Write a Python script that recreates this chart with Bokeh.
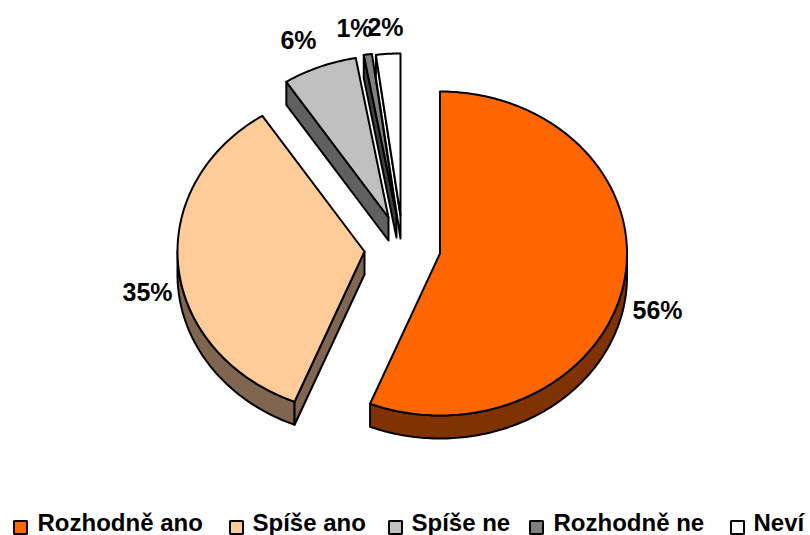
import numpy as np
from bokeh.plotting import figure
from bokeh.embed import file_html
from bokeh.resources import INLINE
from bokeh.core.properties import value

categories = ["Rozhodně ano", "Spíše ano", "Spíše ne", "Rozhodně ne", "Neví"]
shares = [56.1, 34.7, 6.4, 0.7, 2.1]
labels = ["56%", "35%", "6%", "1%", "2%"]
top_colors = ["#FF6600", "#FFCC99", "#C0C0C0", "#808080", "#FFFFFF"]
side_colors = ["#803300", "#806650", "#606060", "#404040", "#FFFFFF"]

# layout in page pixels
W, H = 810, 535
apex_x = [439.5, 364, 388, 396, 400]
apex_y = [253, 251, 217, 214, 215]
RX, RY, DEPTH = 187, 162, 23
label_x = [657, 147, 298, 354, 385]
label_y = [309, 291, 39, 27, 26]
swatch_x = [20, 236, 395, 536, 737]
legend_x = [37, 252, 411, 553, 753]

FONT = value("Liberation Sans")

p = figure(width=W, height=H, x_range=(0, W), y_range=(H, 0), output_backend="svg",
           toolbar_location=None, min_border=0, outline_line_color=None)
p.axis.visible = False
p.grid.visible = False
p.background_fill_color = None
p.border_fill_color = None


def arc(ax, ay, a0, a1):
    t = np.radians(np.linspace(a0, a1, max(3, int(abs(a1 - a0)) + 2)))
    return ax + RX * np.sin(t), ay - RY * np.cos(t)


edges = np.concatenate([[0], np.cumsum(shares)]) * 3.6

for i in range(len(shares)):
    a0, a1 = edges[i], edges[i + 1]
    ax, ay = apex_x[i], apex_y[i]
    style = dict(line_color="black", line_width=2, line_join="round")

    # visible outer wall (facing the viewer: 90..270 degrees)
    lo, hi = max(a0, 90), min(a1, 270)
    if hi > lo:
        x, y = arc(ax, ay, lo, hi)
        p.patch(np.r_[x, x[::-1]], np.r_[y, y[::-1] + DEPTH], fill_color=side_colors[i], **style)

    # visible radial wall on the starting edge of left-hand slices
    if a0 > 180:
        x, y = arc(ax, ay, a0, a0)
        p.patch([ax, x[0], x[0], ax], [ay, y[0], y[0] + DEPTH, ay + DEPTH],
                fill_color=side_colors[i], **style)

    # top surface
    x, y = arc(ax, ay, a0, a1)
    p.patch(np.r_[ax, x], np.r_[ay, y], fill_color=top_colors[i], **style)

# percentage labels
p.text(x=label_x, y=label_y, text=labels, text_font=FONT,
       text_font_style="bold", text_font_size="25px", text_align="center",
       text_baseline="middle", text_color="black")

# legend
p.rect(x=swatch_x, y=[527] * 5, width=13, height=13, fill_color=top_colors,
       line_color="black", line_width=2)
p.text(x=legend_x, y=[521.5] * 5, text=categories, text_font=FONT,
       text_font_style="bold", text_font_size="24px", text_align="left",
       text_baseline="middle", text_color="black")

open("out.html", "w").write(file_html(p, INLINE))
